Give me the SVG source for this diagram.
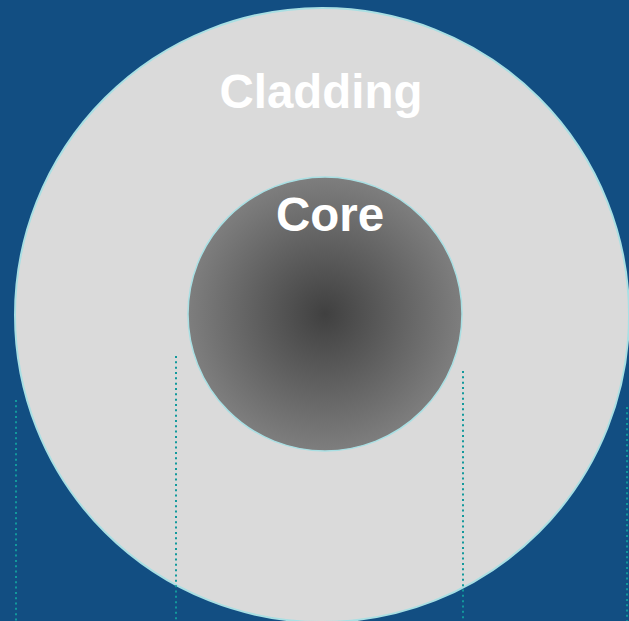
<svg xmlns="http://www.w3.org/2000/svg" width="629" height="621" viewBox="0 0 629 621">
<defs>
<radialGradient id="coreGrad" cx="0.5" cy="0.5" r="0.5">
<stop offset="0" stop-color="#404040"/>
<stop offset="1" stop-color="#7e7e7e"/>
</radialGradient>
<style>
.lbl{font-family:"Liberation Sans",Arial,sans-serif;font-weight:bold;font-size:47.5px;fill:#ffffff;text-anchor:middle}
.dot{stroke:#12999c;stroke-width:2;stroke-dasharray:2 3.33;fill:none}
</style>
</defs>
<rect width="629" height="621" fill="#124e82"/>
<g id="cladding">
<circle cx="322" cy="315" r="307" fill="#dadada" stroke="#a9dfe3" stroke-width="2"/>
<text class="lbl" x="321" y="108">Cladding</text>
</g>
<g id="core">
<circle cx="325" cy="314" r="137" fill="url(#coreGrad)" stroke="#a9dfe3" stroke-width="1.5"/>
<text class="lbl" x="330" y="231">Core</text>
</g>
<g id="connectors">
<line class="dot" x1="16" y1="400" x2="16" y2="621"/>
<line class="dot" x1="176" y1="356" x2="176" y2="621"/>
<line class="dot" x1="463" y1="371" x2="463" y2="621"/>
<line class="dot" x1="627" y1="407" x2="627" y2="621"/>
</g>
</svg>
